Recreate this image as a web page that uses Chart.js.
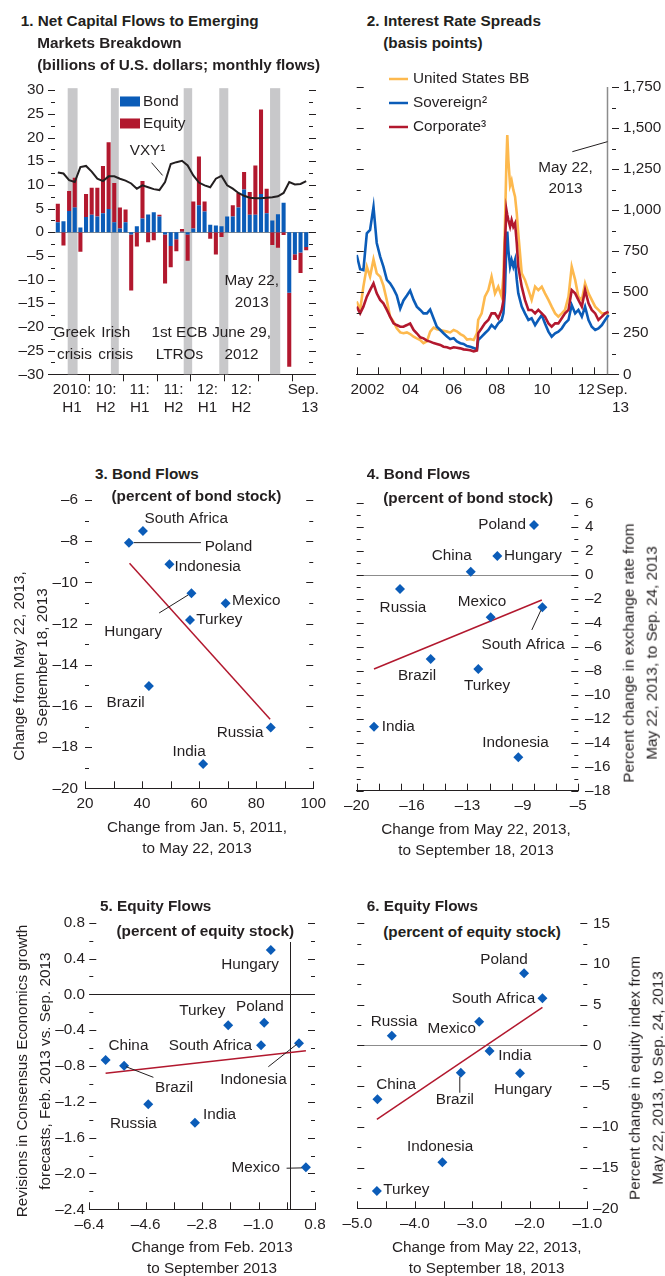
<!DOCTYPE html>
<html>
<head>
<meta charset="utf-8">
<title>Emerging market flows and spreads</title>
<script src="https://cdn.jsdelivr.net/npm/chart.js@4.4.1/dist/chart.umd.min.js"></script>
<style>
  body { margin: 0; background: #fff; }
  #page { position: relative; width: 665px; height: 1276px; overflow: hidden; background: #fff; color: #231f20; }
  #page canvas { position: absolute; }
  .txt { position: absolute; white-space: nowrap; z-index: 2; }
</style>
</head>
<body>
<div id="page"></div>
<script>
// ── Panel 1: net capital flows, Jan. 2010 – Sep. 2013 (billions of US$) ─────
const months = [
  '2010-01','2010-02','2010-03','2010-04','2010-05','2010-06','2010-07','2010-08','2010-09','2010-10','2010-11','2010-12',
  '2011-01','2011-02','2011-03','2011-04','2011-05','2011-06','2011-07','2011-08','2011-09','2011-10','2011-11','2011-12',
  '2012-01','2012-02','2012-03','2012-04','2012-05','2012-06','2012-07','2012-08','2012-09','2012-10','2012-11','2012-12',
  '2013-01','2013-02','2013-03','2013-04','2013-05','2013-06','2013-07','2013-08','2013-09'
];
const bondFlows = [2.1, 2.3, 4.5, 5.2, 1.0, 3.2, 3.7, 3.3, 4.0, 4.9, 2.1, 0.8, 2.1, -0.5, 1.25, 2.9, 3.75, 4.2, 3.3, -0.5,
  -2.9, -1.5, 0.1, -0.5, 0.8, 5.7, 4.4, 1.6, 1.4, 1.25, 3.3, 3.3, 5.2, 9.0, 3.7, 3.7, 8.1, 4.0, 2.5, 3.8,
  6.25, -12.8, -4.65, -4.3, -3.1];
const equityFlows = [3.9, -2.8, 4.2, 6.3, -4.1, 4.9, 5.7, 6.1, 10.0, 14.1, 8.3, 4.4, 2.7, -11.8, -3.0, 7.9, -2.1, -1.7, 0.4, -10.3,
  -4.5, -2.5, 0.6, -5.5, 5.7, 10.3, 2.1, -1.4, -4.7, -1.0, 0, 2.4, 3.1, 3.7, 4.8, 10.4, 17.8, 5.2, -2.7, -3.3,
  -0.6, -15.6, -1.2, -4.3, -0.7];
const vxy = [12.6, 12.4, 11.0, 10.6, 13.75, 14.0, 12.8, 11.3, 10.8, 11.8, 11.8, 11.3, 10.9, 10.3, 9.2, 9.9, 9.5, 9.1, 8.9, 10.6,
  14.4, 14.8, 15.1, 14.1, 12.0, 10.5, 9.9, 9.5, 11.3, 11.9, 9.9, 9.2, 8.3, 7.7, 7.3, 7.2, 7.2, 7.3, 7.4, 7.6,
  8.3, 10.6, 10.1, 10.2, 10.8];
// crisis periods, in month-index units
const crisisStart = [1.75, 9.4, 22.3, 28.6, 37.6];
const crisisEnd   = [3.5, 10.8, 23.8, 30.2, 39.4];
const p1TickText = { 3: ['2010:', 'H1'], 9: ['10:', 'H2'], 15: ['11:', 'H1'], 21: ['11:', 'H2'], 27: ['12:', 'H1'], 33: ['12:', 'H2'], 44: ['Sep.', '   13'] };

// ── Panel 2: interest rate spreads (basis points) ───────────────────────────
const spreadYears = [
  2002.00, 2002.16, 2002.31, 2002.47, 2002.62, 2002.78, 2002.93, 2003.09, 2003.24, 2003.40,
  2003.55, 2003.71, 2003.86, 2004.02, 2004.17, 2004.33, 2004.48, 2004.64, 2004.79, 2004.95,
  2005.10, 2005.26, 2005.41, 2005.57, 2005.72, 2005.88, 2006.03, 2006.19, 2006.34, 2006.50,
  2006.65, 2006.81, 2006.96, 2007.12, 2007.27, 2007.43, 2007.58,
  2007.64, 2007.80, 2007.95, 2008.11, 2008.26, 2008.42, 2008.57, 2008.73, 2008.81, 2008.88,
  2008.95, 2008.99, 2009.04, 2009.12, 2009.19, 2009.27, 2009.35, 2009.43, 2009.50, 2009.66,
  2009.81, 2009.97, 2010.12, 2010.28, 2010.43, 2010.59, 2010.74, 2010.90, 2011.05, 2011.21,
  2011.36, 2011.52, 2011.67, 2011.83, 2011.98, 2012.14, 2012.29, 2012.45, 2012.60, 2012.76,
  2012.91, 2013.07, 2013.22, 2013.38, 2013.53, 2013.69
];
const usBB = [
  443, 392, 534, 656, 595, 700, 615, 595, 540, 450,
  351, 320, 280, 255, 250, 255, 245, 229, 219, 209,
  189, 200, 260, 285, 275, 270, 265, 260, 255, 270,
  262, 245, 235, 212, 215, 209, 250,
  331, 371, 473, 513, 595, 493, 534, 473, 600, 900,
  1300, 1458, 1305, 1150, 1180, 1123, 1082, 980, 859, 615,
  575, 513, 453, 534, 513, 534, 493, 453, 412, 371,
  351, 371, 392, 473, 656, 575, 473, 453, 554, 493,
  453, 412, 392, 371, 371, 371
];
const sovereign = [
  727, 640, 635, 859, 880, 1020, 800, 717, 656, 575,
  554, 520, 480, 400, 450, 480, 510, 453, 412, 392,
  371, 371, 395, 340, 290, 270, 250, 230, 214, 220,
  200, 189, 185, 172, 168, 160, 152,
  209, 229, 250, 270, 300, 280, 310, 331, 371, 500,
  800, 869, 757, 656, 696, 656, 696, 575, 493, 412,
  371, 331, 341, 300, 331, 361, 310, 260, 229, 250,
  260, 280, 310, 331, 422, 371, 392, 351, 412, 331,
  290, 270, 280, 300, 331, 361
];
const corporate = [
  412, 371, 412, 473, 513, 554, 493, 453, 432, 392,
  351, 310, 300, 290, 290, 300, 310, 270, 250, 225,
  219, 205, 199, 190, 185, 179, 168, 165, 158, 165,
  162, 158, 152, 150, 146, 140, 145,
  250, 280, 310, 331, 371, 371, 341, 392, 450, 800,
  1001, 970, 940, 899, 940, 899, 920, 798, 656, 534,
  453, 392, 392, 371, 392, 371, 351, 310, 290, 310,
  310, 341, 371, 392, 513, 493, 453, 412, 513, 432,
  392, 371, 331, 351, 371, 381
];
const may22Line = 2013.62;
const p2TickAt = [2002.5, 2004.5, 2006.5, 2008.5, 2010.6, 2012.65, 2013.85];
const p2TickText = ['2002', '04', '06', '08', '10', '12', ['Sep.', '    13']];

// ── Panels 3–6: country scatters ────────────────────────────────────────────
const countries3 = ['South Africa', 'Poland', 'Indonesia', 'Hungary', 'Mexico', 'Turkey', 'Brazil', 'Russia', 'India'];
const bondPre3   = [40.3, 35.4, 49.6, 57.3, 69.3, 56.8, 42.4, 85.1, 61.4];
const bondPost3  = [-7.5, -8.07, -9.12, -10.53, -11.01, -11.83, -15.03, -17.05, -18.82];
const fit3X = [35.6, 84.9], fit3Y = [-9.07, -16.65];

const countries4 = ['Poland', 'Hungary', 'China', 'Russia', 'Mexico', 'South Africa', 'Brazil', 'Turkey', 'India', 'Indonesia'];
const bondFlow4  = [-8.0, -10.48, -12.28, -17.07, -10.93, -7.43, -14.99, -11.77, -18.83, -9.06];
const fxChange4  = [4.19, 1.6, 0.29, -1.16, -3.52, -2.68, -7.0, -7.84, -12.65, -15.21];
const fit4X = [-18.83, -7.47], fit4Y = [-7.84, -2.07];

const countries5 = ['Hungary', 'Turkey', 'Poland', 'South Africa', 'Indonesia', 'China', 'Brazil', 'Russia', 'India', 'Mexico'];
const equityFlow5 = [-0.61, -1.97, -0.82, -0.92, 0.29, -5.88, -5.29, -4.52, -3.03, 0.51];
const growthRev5  = [0.495, -0.346, -0.317, -0.569, -0.547, -0.733, -0.797, -1.228, -1.433, -1.93];
const fit5X = [-5.88, 0.51], fit5Y = [-0.882, -0.629];

const countries6 = ['Poland', 'South Africa', 'Russia', 'Mexico', 'India', 'Brazil', 'Hungary', 'China', 'Indonesia', 'Turkey'];
const equityFlow6  = [-2.10, -1.78, -4.40, -2.88, -2.70, -3.20, -2.17, -4.65, -3.52, -4.66];
const equityIndex6 = [8.86, 5.79, 1.20, 2.92, -0.68, -3.35, -3.42, -6.62, -14.35, -17.88];
const fit6X = [-4.66, -1.78], fit6Y = [-9.07, 4.68];

// ── Look ────────────────────────────────────────────────────────────────────
const INK = '#231f20';
const BLUE = '#0b5cb8';
const RED = '#b2182e';
const GOLD = '#fdb94e';
const BAND = '#c8c8ca';
const RULE = '#8c8c8c';

function fontExists(name) {
  const ctx = document.createElement('canvas').getContext('2d');
  const probe = 'mmmmwwwwllllii0123456789';
  ctx.font = '40px monospace';
  const w0 = ctx.measureText(probe).width;
  ctx.font = '40px "' + name + '", monospace';
  return ctx.measureText(probe).width !== w0;
}
const NARROW = fontExists('Liberation Sans Narrow');
const FAM = NARROW ? '"Liberation Sans Narrow", sans-serif' : '"Liberation Sans", Arial, sans-serif';
const FS = NARROW ? 18.5 : 15.3;
const LH = 21.5;

Chart.defaults.font.family = FAM;
Chart.defaults.font.size = FS;
Chart.defaults.color = INK;
Chart.defaults.plugins.legend.display = false;
Chart.defaults.plugins.tooltip.enabled = false;

const BASE = { responsive: false, maintainAspectRatio: false, animation: false, devicePixelRatio: 1, events: [] };
const NOGRID = { display: false, drawTicks: false };

const fmt = (v, d) => {
  if (Math.abs(v) < 1e-9) v = 0;
  const s = Math.abs(v).toFixed(d);
  return v < 0 ? '\u2013' + s : s;
};

const page = document.getElementById('page');

function canvasAt(x, y, w, h) {
  const c = document.createElement('canvas');
  c.width = w; c.height = h;
  Object.assign(c.style, { left: x + 'px', top: y + 'px', width: w + 'px', height: h + 'px' });
  page.appendChild(c);
  return c;
}

// canvas box [x, y, w, h] and plot area [left, top, right, bottom], page coords
function frame(box, area, side) {
  const [cx, cy, w, h] = box, [L, T, R, B] = area;
  const yw = side === 'left' ? L - cx : cx + w - R;
  return {
    padding: { top: T - cy, bottom: 0, left: side === 'left' ? 0 : L - cx, right: side === 'left' ? cx + w - R : 0 },
    yFit: s => { s.width = yw; },
    xFit: s => { s.height = cy + h - B; }
  };
}

// ── Plugins ─────────────────────────────────────────────────────────────────
function rules(cfg) {
  return {
    id: 'rules',
    beforeDatasetsDraw(chart) {
      const { ctx, chartArea: ca, scales: { x, y } } = chart;
      ctx.save();
      if (cfg.from) {
        ctx.fillStyle = BAND;
        cfg.from.forEach((f, i) => {
          const x0 = x.getPixelForValue(f), x1 = x.getPixelForValue(cfg.to[i]);
          ctx.fillRect(x0, ca.top - 2, x1 - x0, ca.bottom - ca.top + 2);
        });
      }
      (cfg.h || []).forEach(r => {
        const p = Math.round(y.getPixelForValue(r.v)) + 0.5;
        ctx.strokeStyle = r.color; ctx.lineWidth = r.w || 1;
        ctx.beginPath(); ctx.moveTo(ca.left, p); ctx.lineTo(ca.right, p); ctx.stroke();
      });
      (cfg.v || []).forEach(r => {
        const p = Math.round(x.getPixelForValue(r.v)) + 0.5;
        ctx.strokeStyle = r.color; ctx.lineWidth = r.w || 1;
        ctx.beginPath(); ctx.moveTo(p, ca.top); ctx.lineTo(p, ca.bottom); ctx.stroke();
      });
      ctx.restore();
    }
  };
}

function marks(list) {
  return {
    id: 'marks',
    afterDraw(chart) {
      const { ctx, chartArea: ca } = chart;
      ctx.save();
      ctx.strokeStyle = INK; ctx.lineWidth = 1;
      list.forEach(m => {
        const sc = chart.scales[m.side === 'bottom' ? 'x' : 'y'];
        const n = Math.round((m.max - m.min) / m.step);
        const d = m.in ? 1 : -1;
        for (let i = 0; i <= n; i++) {
          const v = m.min + i * m.step;
          const q = (v - m.min) / (m.major || m.step);
          const len = Math.abs(q - Math.round(q)) < 1e-6 ? 7 : 4;
          const p = Math.round(sc.getPixelForValue(v)) + 0.5;
          ctx.beginPath();
          if (m.side === 'left') { ctx.moveTo(ca.left, p); ctx.lineTo(ca.left + d * len, p); }
          else if (m.side === 'right') { ctx.moveTo(ca.right, p); ctx.lineTo(ca.right - d * len, p); }
          else { ctx.moveTo(p, ca.bottom); ctx.lineTo(p, ca.bottom - d * len); }
          ctx.stroke();
        }
      });
      ctx.restore();
    }
  };
}

// free text and leader lines, placed in data coordinates
function notes(texts, lines) {
  return {
    id: 'notes',
    afterDatasetsDraw(chart) {
      const { ctx, scales: { x, y } } = chart;
      ctx.save();
      ctx.strokeStyle = INK; ctx.lineWidth = 1;
      lines.forEach(l => {
        ctx.beginPath();
        ctx.moveTo(x.getPixelForValue(l[0]), y.getPixelForValue(l[1]));
        ctx.lineTo(x.getPixelForValue(l[2]), y.getPixelForValue(l[3]));
        ctx.stroke();
      });
      ctx.font = FS + 'px ' + FAM; ctx.fillStyle = INK; ctx.textBaseline = 'middle';
      texts.forEach(t => {
        ctx.textAlign = t[3] || 'center';
        t[0].split('\n').forEach((s, k) => ctx.fillText(s, x.getPixelForValue(t[1]), y.getPixelForValue(t[2]) + k * LH));
      });
      ctx.restore();
    }
  };
}

// country names beside the points: [dx, dy, align, leader]
function tags(names, place) {
  return {
    id: 'tags',
    afterDatasetsDraw(chart) {
      const ctx = chart.ctx;
      const pts = chart.getDatasetMeta(0).data;
      ctx.save();
      ctx.font = FS + 'px ' + FAM; ctx.fillStyle = INK; ctx.strokeStyle = INK; ctx.lineWidth = 1;
      ctx.textBaseline = 'middle';
      names.forEach((name, i) => {
        const p = place[name];
        if (!p || !pts[i]) return;
        const px = pts[i].x, py = pts[i].y;
        if (p[3]) {
          ctx.beginPath();
          ctx.moveTo(px + p[3][0], py + p[3][1]);
          ctx.lineTo(px + p[3][2], py + p[3][3]);
          ctx.stroke();
        }
        ctx.textAlign = p[2];
        ctx.fillText(name, px + p[0], py + p[1]);
      });
      ctx.restore();
    }
  };
}

function keys(items, dx, dy, gap, kind) {
  return {
    id: 'keys',
    afterDraw(chart) {
      const { ctx, chartArea: ca } = chart;
      ctx.save();
      ctx.font = FS + 'px ' + FAM; ctx.textBaseline = 'middle'; ctx.textAlign = 'left';
      items.forEach(([label, color], i) => {
        const y = ca.top + dy + i * gap;
        let tx;
        if (kind === 'box') {
          ctx.fillStyle = color;
          ctx.fillRect(ca.left + dx, y - 5, 20, 10);
          tx = ca.left + dx + 23;
        } else {
          ctx.strokeStyle = color; ctx.lineWidth = 2.5;
          ctx.beginPath(); ctx.moveTo(ca.left + dx, y); ctx.lineTo(ca.left + dx + 19, y); ctx.stroke();
          tx = ca.left + dx + 24;
        }
        ctx.fillStyle = INK;
        ctx.fillText(label, tx, y);
      });
      ctx.restore();
    }
  };
}

// ── Panel 1 ─────────────────────────────────────────────────────────────────
const box1 = [0, 70, 332, 360];
const f1 = frame(box1, [55, 86.7, 309, 374.3], 'left');
new Chart(canvasAt(...box1), {
  data: {
    labels: months,
    datasets: [
      { type: 'line', label: 'VXY', data: vxy, stack: 'vxy', borderColor: INK, borderWidth: 2, pointRadius: 0, order: 0 },
      { type: 'bar', label: 'Bond', data: bondFlows, stack: 'flows', backgroundColor: BLUE, barPercentage: 0.72, categoryPercentage: 1, order: 1 },
      { type: 'bar', label: 'Equity', data: equityFlows, stack: 'flows', backgroundColor: RED, barPercentage: 0.72, categoryPercentage: 1, order: 2 }
    ]
  },
  options: {
    ...BASE,
    layout: { padding: f1.padding },
    scales: {
      x: {
        stacked: true, offset: true, grid: NOGRID, border: { color: INK }, afterFit: f1.xFit,
        ticks: { autoSkip: false, maxRotation: 0, padding: 6, labelOffset: -2.8, callback: (v, i) => p1TickText[i] || '' }
      },
      y: {
        stacked: true, min: -30, max: 30, grid: NOGRID, border: { display: false }, afterFit: f1.yFit,
        ticks: { stepSize: 5, padding: 11, callback: v => fmt(v, 0) }
      }
    }
  },
  plugins: [
    rules({ from: crisisStart, to: crisisEnd, h: [{ v: 0, color: RULE }] }),
    marks([
      { side: 'left', in: false, min: -30, max: 30, step: 2.5, major: 5 },
      { side: 'right', in: false, min: -30, max: 30, step: 2.5, major: 5 },
      { side: 'bottom', in: false, min: 5.5, max: 41.5, step: 6, major: 6 }
    ]),
    notes([
      ['Greek\ncrisis', 2.94, -21.25], ['Irish\ncrisis', 10.26, -21.25], ['1st ECB\nLTROs', 21.56, -21.25],
      ['June 29,\n2012', 32.55, -21.25], ['May 22,\n2013', 34.35, -10.27], ['VXY\u00b9', 15.9, 17.23]
    ], [[16.6, 14.7, 18.56, 12.0]]),
    keys([['Bond', BLUE], ['Equity', RED]], 65, 11.3, 22, 'box')
  ]
});

// ── Panel 2 ─────────────────────────────────────────────────────────────────
const box2 = [335, 60, 330, 370];
const f2 = frame(box2, [356.7, 87, 612, 374.3], 'right');
const pairs = vals => spreadYears.map((t, i) => ({ x: t, y: vals[i] }));
new Chart(canvasAt(...box2), {
  type: 'line',
  data: {
    datasets: [
      { label: 'United States BB', data: pairs(usBB), borderColor: GOLD, borderWidth: 2.6, pointRadius: 0, order: 3 },
      { label: 'Sovereign', data: pairs(sovereign), borderColor: BLUE, borderWidth: 2.6, pointRadius: 0, order: 2 },
      { label: 'Corporate', data: pairs(corporate), borderColor: RED, borderWidth: 2.6, pointRadius: 0, order: 1 }
    ]
  },
  options: {
    ...BASE,
    layout: { padding: f2.padding },
    scales: {
      x: {
        type: 'linear', min: 2002, max: 2013.85, grid: NOGRID, border: { color: INK }, afterFit: f2.xFit,
        afterBuildTicks: s => { s.ticks = p2TickAt.map(v => ({ value: v })); },
        ticks: { autoSkip: false, maxRotation: 0, padding: 6, callback: (v, i) => p2TickText[i] }
      },
      y: {
        position: 'right', min: 0, max: 1750, grid: NOGRID, border: { display: false }, afterFit: f2.yFit,
        ticks: { stepSize: 250, padding: 11, callback: v => v.toLocaleString('en-US') }
      }
    }
  },
  plugins: [
    rules({ v: [{ v: may22Line, color: RULE, w: 1.5 }] }),
    marks([
      { side: 'left', in: true, min: 0, max: 1750, step: 125, major: 250 },
      { side: 'right', in: false, min: 0, max: 1750, step: 125, major: 250 },
      { side: 'bottom', in: true, min: 2002, max: 2013, step: 1, major: 1 }
    ]),
    notes([['May 22,\n2013', 2011.69, 1258]], [[2012.01, 1356, 2013.64, 1417]]),
    keys([['United States BB', GOLD], ['Sovereign\u00b2', BLUE], ['Corporate\u00b3', RED]], 32.3, -8, 24, 'line')
  ]
});

// ── Panels 3–6 ──────────────────────────────────────────────────────────────
function scatterPanel(box, area, side, xs, ys, fx, fy, xAx, yAx, names, place, ruleCfg, markList) {
  const f = frame(box, area, side);
  new Chart(canvasAt(...box), {
    type: 'scatter',
    data: {
      datasets: [
        { data: xs.map((v, i) => ({ x: v, y: ys[i] })), pointStyle: 'rectRot', pointRadius: 5, backgroundColor: BLUE, borderWidth: 0, order: 0 },
        { type: 'line', data: fx.map((v, i) => ({ x: v, y: fy[i] })), borderColor: RED, borderWidth: 1.5, pointRadius: 0, order: 1 }
      ]
    },
    options: {
      ...BASE,
      layout: { padding: f.padding },
      scales: {
        x: {
          type: 'linear', min: xAx.min, max: xAx.max, grid: NOGRID, border: { color: INK }, afterFit: f.xFit,
          ticks: { stepSize: xAx.step, padding: 6, maxRotation: 0, callback: xAx.label }
        },
        y: {
          type: 'linear', position: side, min: yAx.min, max: yAx.max, grid: NOGRID, border: { display: false }, afterFit: f.yFit,
          ticks: { stepSize: yAx.step, padding: yAx.pad, callback: yAx.label }
        }
      }
    },
    plugins: [rules(ruleCfg), marks(markList), tags(names, place)]
  });
}

const place3 = {
  'South Africa': [1.7, -12, 'left'],
  'Poland': [75.7, 4.3, 'left', [5, 0, 72, 0]],
  'Indonesia': [5, 2.7, 'left'],
  'Hungary': [-58.3, 38.4, 'center', [-32.3, 19.7, -3.3, 1.7]],
  'Mexico': [6.3, -2.3, 'left'],
  'Turkey': [6.3, 0, 'left'],
  'Brazil': [-23.3, 17, 'center'],
  'Russia': [-7.3, 5.3, 'right'],
  'India': [-14, -12.3, 'center']
};
scatterPanel([0, 450, 332, 410], [85, 500, 315, 788.3], 'left', bondPre3, bondPost3, fit3X, fit3Y,
  { min: 20, max: 100, step: 20, label: v => fmt(v, 0) },
  { min: -20, max: -6, step: 2, pad: 7, label: v => fmt(v, 0) },
  countries3, place3, {},
  [
    { side: 'left', in: true, min: -20, max: -6, step: 1, major: 2 },
    { side: 'right', in: true, min: -20, max: -6, step: 1, major: 2 },
    { side: 'bottom', in: true, min: 20, max: 100, step: 10, major: 10 }
  ]);

const place4 = {
  'Poland': [-8, 0, 'right'],
  'Hungary': [6.7, 0, 'left'],
  'China': [-19, -15.7, 'center'],
  'Russia': [3, 18.3, 'center'],
  'Mexico': [-8.7, -15.6, 'center'],
  'South Africa': [-19.3, 37.7, 'center', [-10.6, 22.7, -1.5, 3]],
  'Brazil': [-13.7, 17, 'center'],
  'Turkey': [8.7, 17, 'center'],
  'India': [7.7, 0, 'left'],
  'Indonesia': [-2.8, -14.3, 'center']
};
scatterPanel([335, 450, 330, 410], [356.7, 503.3, 578.3, 790.7], 'right', bondFlow4, fxChange4, fit4X, fit4Y,
  { min: -20, max: -5, step: 3.75, label: v => fmt(Math.sign(v) * Math.round(Math.abs(v)), 0) },
  { min: -18, max: 6, step: 2, pad: 6.7, label: v => fmt(v, 0) },
  countries4, place4, { h: [{ v: 0, color: RULE }] },
  [
    { side: 'left', in: true, min: -18, max: 6, step: 1, major: 2 },
    { side: 'right', in: true, min: -18, max: 6, step: 1, major: 2 },
    { side: 'bottom', in: true, min: -20, max: -5, step: 1.5, major: 1.5 }
  ]);

const place5 = {
  'Hungary': [-20.7, 15, 'center'],
  'Turkey': [-25.8, -14.6, 'center'],
  'Poland': [-4.3, -16, 'center'],
  'South Africa': [-9, 0, 'right'],
  'Indonesia': [-45.5, 36.7, 'center', [-30.7, 23.4, -2.3, 1]],
  'China': [22.8, -14.3, 'center'],
  'Brazil': [50, 21.6, 'center', [2, 1, 29.3, 11.6]],
  'Russia': [-14.8, 19, 'center'],
  'India': [8, -7.7, 'left'],
  'Mexico': [-26, 1, 'right', [-19.3, 1, -4, 0.7]]
};
scatterPanel([0, 880, 332, 396], [89.3, 922.7, 315, 1209.3], 'left', equityFlow5, growthRev5, fit5X, fit5Y,
  { min: -6.4, max: 0.8, step: 1.8, label: v => fmt(v, 1) },
  { min: -2.4, max: 0.8, step: 0.4, pad: 4.3, label: v => fmt(v, 1) },
  countries5, place5, { h: [{ v: 0, color: INK }], v: [{ v: 0, color: INK }] },
  [
    { side: 'left', in: true, min: -2.4, max: 0.8, step: 0.2, major: 0.4 },
    { side: 'right', in: true, min: -2.4, max: 0.8, step: 0.2, major: 0.4 },
    { side: 'bottom', in: true, min: -6.4, max: 0.8, step: 0.9, major: 0.9 }
  ]);

const place6 = {
  'Poland': [-20, -13.3, 'center'],
  'South Africa': [-7.3, 0, 'right'],
  'Russia': [2.3, -13.4, 'center'],
  'Mexico': [-3.3, 7.3, 'right'],
  'India': [8.7, 5, 'left'],
  'Brazil': [-6, 26.6, 'center', [-1, 4, -1, 20]],
  'Hungary': [3, 16.7, 'center'],
  'China': [18.7, -14.6, 'center'],
  'Indonesia': [-2.3, -15.6, 'center'],
  'Turkey': [6.3, -1.7, 'left']
};
scatterPanel([335, 880, 330, 396], [357.3, 923.3, 587.3, 1208.3], 'right', equityFlow6, equityIndex6, fit6X, fit6Y,
  { min: -5, max: -1, step: 1, label: v => fmt(v, 1) },
  { min: -20, max: 15, step: 5, pad: 5.7, label: v => fmt(v, 0) },
  countries6, place6, { h: [{ v: 0, color: RULE }] },
  [
    { side: 'left', in: true, min: -20, max: 15, step: 2.5, major: 5 },
    { side: 'right', in: true, min: -20, max: 15, step: 2.5, major: 5 },
    { side: 'bottom', in: true, min: -5, max: -1, step: 0.5, major: 0.5 }
  ]);

// ── Titles and axis titles ──────────────────────────────────────────────────
function put(html, css) {
  const d = document.createElement('div');
  d.className = 'txt';
  d.innerHTML = html;
  Object.assign(d.style, { fontFamily: FAM, fontSize: FS + 'px' }, css);
  page.appendChild(d);
  return d;
}
function title(lines, x, ys) {
  lines.forEach((s, i) => put(s, {
    left: (i ? x + 16.5 : x) + 'px', top: (ys[i] - 11) + 'px', lineHeight: '22px', fontWeight: 'bold', background: '#fff'
  }));
}
function xTitle(lines, cx, y1) {
  put(lines.join('<br>'), { left: cx + 'px', top: (y1 - 10.5) + 'px', lineHeight: '21px', textAlign: 'center', transform: 'translateX(-50%)' });
}
function yTitle(lines, cx, cy) {
  put(lines.join('<br>'), { left: cx + 'px', top: cy + 'px', lineHeight: '23.3px', textAlign: 'center', transform: 'translate(-50%,-50%) rotate(-90deg)' });
}

title(['1. Net Capital Flows to Emerging', 'Markets Breakdown', '(billions of U.S. dollars; monthly flows)'], 20.7, [21, 43, 65]);
title(['2. Interest Rate Spreads', '(basis points)'], 366.7, [20.7, 43.3]);
title(['3. Bond Flows', '(percent of bond stock)'], 95, [474, 496]);
title(['4. Bond Flows', '(percent of bond stock)'], 366.7, [474, 498]);
title(['5. Equity Flows', '(percent of equity stock)'], 100, [906, 930.7]);
title(['6. Equity Flows', '(percent of equity stock)'], 366.7, [906, 931.7]);

xTitle(['Change from Jan. 5, 2011,', 'to May 22, 2013'], 197, 826.7);
xTitle(['Change from May 22, 2013,', 'to September 18, 2013'], 476, 828.3);
xTitle(['Change from Feb. 2013', 'to September 2013'], 212, 1246.7);
xTitle(['Change from May 22, 2013,', 'to September 18, 2013'], 486.7, 1246.7);

yTitle(['Change from May 22, 2013,', 'to September 18, 2013'], 30, 666);
yTitle(['Percent change in exchange rate from', 'May 22, 2013, to Sep. 24, 2013'], 640, 653);
yTitle(['Revisions in Consensus Economics growth', 'forecasts, Feb. 2013 vs. Sep. 2013'], 33.4, 1071);
yTitle(['Percent change in equity index from', 'May 22, 2013, to Sep. 24, 2013'], 646, 1078);
</script>
</body>
</html>
